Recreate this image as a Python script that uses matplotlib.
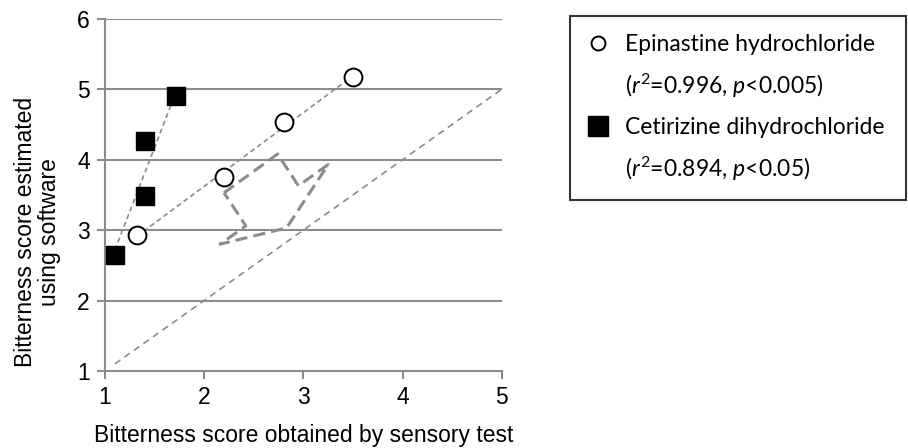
import numpy as np
import matplotlib.pyplot as plt
from matplotlib.lines import Line2D

plt.rcParams['font.family'] = ['Liberation Sans', 'DejaVu Sans']
plt.rcParams['mathtext.fontset'] = 'custom'
plt.rcParams['mathtext.rm'] = 'Lato'
plt.rcParams['mathtext.it'] = 'Lato:italic'

# data
epi_x = [1.32, 2.20, 2.80, 3.50]
epi_y = [2.93, 3.76, 4.53, 5.17]
cet_x = [1.10, 1.40, 1.40, 1.72]
cet_y = [2.65, 3.48, 4.27, 4.91]
ident_x = [1.1, 5.0]   # y = x reference line

# stray dashed arrow shape that sits in the original figure
arrow_x = [2.20, 2.74, 2.95, 3.25, 2.83, 2.16, 2.42, 2.20]
arrow_y = [3.53, 4.08, 3.63, 3.93, 3.03, 2.80, 3.06, 3.53]

x_ticks = [1, 2, 3, 4, 5]
y_ticks = [1, 2, 3, 4, 5, 6]

grey = '#8c8c8c'

fig = plt.figure(figsize=(9.08, 4.48), dpi=100)
ax = fig.add_axes([0.1156, 0.172, 0.437, 0.786])

for yt in y_ticks[1:]:
    ax.axhline(yt, color=grey, lw=1.5, zorder=0)

# trend lines
for xs, ys in [(epi_x, epi_y), (cet_x, cet_y)]:
    k, b = np.polyfit(xs, ys, 1)
    xx = np.array([min(xs), max(xs)])
    ax.plot(xx, k * xx + b, color=grey, lw=1.2, ls=(0, (3, 2)), zorder=1)
ax.plot(ident_x, ident_x, color=grey, lw=1.2, ls=(0, (4, 3)), zorder=1)
ax.plot(arrow_x, arrow_y, color=grey, lw=2.2, ls=(0, (4, 2)), zorder=1)

ax.scatter(epi_x, epi_y, s=165, marker='o', facecolor='white', edgecolor='black', linewidths=1.4, zorder=3)
ax.scatter(cet_x, cet_y, s=175, marker='s', color='black', zorder=3)

ax.set_xlim(1, 5)
ax.set_ylim(1, 6)
ax.set_xticks(x_ticks)
ax.set_yticks(y_ticks)
for s in ['top', 'right']:
    ax.spines[s].set_visible(False)
for s in ['left', 'bottom']:
    ax.spines[s].set_color(grey)
    ax.spines[s].set_linewidth(1.5)
ax.tick_params(colors=grey, width=1.5, length=6, labelsize=16.5, labelcolor='black', pad=5)

ax.set_xlabel('Bitterness score obtained by sensory test', fontsize=16.5, labelpad=11)
ax.set_ylabel('Bitterness score estimated\nusing software', fontsize=16.5, linespacing=1.05)
ax.yaxis.set_label_coords(-0.11, 0.395)

handles = [
    Line2D([], [], ls='none', marker='o', ms=10, mfc='white', mec='black', mew=1.4),
    Line2D([], [], ls='none'),
    Line2D([], [], ls='none', marker='s', ms=14, color='black'),
    Line2D([], [], ls='none'),
]
labels = [
    'Epinastine hydrochloride',
    r'($\it{r}^{2}$=0.996, $\it{p}$<0.005)',
    'Cetirizine dihydrochloride',
    r'($\it{r}^{2}$=0.894, $\it{p}$<0.05)',
]
leg = fig.legend(handles, labels, loc='upper left', bbox_to_anchor=(0.628, 0.964, 0.37, 0.0),
                 mode='expand', prop={'family': 'Lato', 'size': 16.5}, frameon=True,
                 fancybox=False, edgecolor='black', labelspacing=0.73, handletextpad=0.7,
                 borderpad=0.77, handlelength=0.9, borderaxespad=0)
leg.get_frame().set_linewidth(1.5)

fig.savefig('out.png', dpi=100)
